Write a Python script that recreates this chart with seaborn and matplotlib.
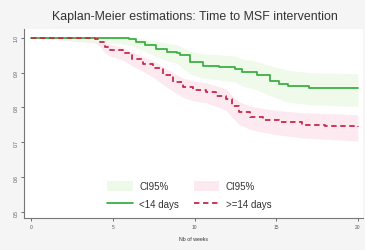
import matplotlib
matplotlib.use("Agg")
import matplotlib.pyplot as plt
import seaborn as sns
import pandas as pd
from matplotlib.patches import Patch
from matplotlib.lines import Line2D

# Kaplan-Meier estimates (weeks, survival, CI95%)
weeks_lt14 = [0, 6.0, 6.4, 7.0, 7.65, 8.3, 8.9, 9.1, 9.7, 10.5, 11.5, 12.5, 12.9, 13.8, 14.6, 15.2, 15.7, 17.0, 20]
surv_lt14 = [1.0, 0.995, 0.988, 0.979, 0.969, 0.96, 0.955, 0.949, 0.93, 0.92, 0.916, 0.911, 0.901, 0.892, 0.877, 0.868, 0.861, 0.856, 0.856]
hi_lt14 = [1.0, 1.0, 0.999, 0.995, 0.99, 0.984, 0.98, 0.976, 0.962, 0.954, 0.951, 0.947, 0.939, 0.932, 0.92, 0.913, 0.907, 0.9, 0.897]
lo_lt14 = [1.0, 0.98, 0.972, 0.96, 0.946, 0.934, 0.927, 0.92, 0.896, 0.884, 0.879, 0.873, 0.862, 0.851, 0.834, 0.824, 0.815, 0.808, 0.803]

weeks_ge14 = [0, 3.9, 4.2, 4.5, 4.8, 5.6, 6.2, 6.85, 7.45, 8.07, 8.7, 9.3, 9.9, 10.7, 11.3, 11.9, 12.3, 12.7, 13.4, 14.2, 15.2, 16.6, 18.0, 20]
surv_ge14 = [1.0, 0.995, 0.988, 0.974, 0.966, 0.955, 0.94, 0.926, 0.912, 0.893, 0.874, 0.858, 0.849, 0.844, 0.834, 0.825, 0.805, 0.786, 0.772, 0.765, 0.758, 0.751, 0.748, 0.743]
hi_ge14 = [1.0, 1.0, 0.998, 0.988, 0.982, 0.972, 0.959, 0.946, 0.934, 0.917, 0.899, 0.884, 0.876, 0.871, 0.862, 0.854, 0.835, 0.817, 0.804, 0.797, 0.791, 0.785, 0.783, 0.779]
lo_ge14 = [1.0, 0.985, 0.975, 0.958, 0.948, 0.936, 0.919, 0.903, 0.887, 0.866, 0.846, 0.829, 0.819, 0.814, 0.803, 0.793, 0.772, 0.752, 0.737, 0.729, 0.721, 0.713, 0.709, 0.704]

x_ticks = [0, 5, 10, 15, 20]
y_ticks = [0.5, 0.6, 0.7, 0.8, 0.9, 1.0]

GREEN = "#3cb043"
RED = "#c42a4a"
GREEN_CI = "#edfae8"
RED_CI = "#fdeaf0"


def main():
    sns.set_style("white")
    plt.rcParams["font.family"] = ["Liberation Sans", "DejaVu Sans"]

    fig = plt.figure(figsize=(3.65, 2.51), dpi=100, facecolor="#f5f5f5")
    ax = fig.add_axes([0.066, 0.127, 0.928, 0.755])
    ax.set_facecolor("white")

    ax.fill_between(weeks_ge14, lo_ge14, hi_ge14, color=RED_CI, lw=0)
    ax.fill_between(weeks_lt14, lo_lt14, hi_lt14, color=GREEN_CI, lw=0, alpha=0.85)

    df_lt = pd.DataFrame({"weeks": weeks_lt14, "surv": surv_lt14})
    df_ge = pd.DataFrame({"weeks": weeks_ge14, "surv": surv_ge14})
    sns.lineplot(data=df_lt, x="weeks", y="surv", ax=ax, color=GREEN, lw=1.3,
                 drawstyle="steps-post", zorder=3)
    sns.lineplot(data=df_ge, x="weeks", y="surv", ax=ax, color=RED, lw=1.3,
                 drawstyle="steps-post", dashes=(3, 2), zorder=4)

    ax.set_xlim(-0.43, 20.3)
    ax.set_ylim(0.483, 1.026)
    ax.set_xticks(x_ticks)
    ax.set_yticks(y_ticks)
    ax.set_yticklabels([f"{v:.1f}" for v in y_ticks], rotation=90, va="center")
    ax.tick_params(axis="both", labelsize=3.5, length=2.5, width=0.6,
                   colors="#555555", pad=1.5, left=True, bottom=True)
    sns.despine(ax=ax)
    for s in ("left", "bottom"):
        ax.spines[s].set_color("#777777")
        ax.spines[s].set_linewidth(0.8)

    ax.set_xlabel("Nb of weeks", fontsize=3.8, color="#333333", labelpad=5)
    ax.set_ylabel("")
    fig.suptitle("Kaplan-Meier estimations: Time to MSF intervention",
                 fontsize=8.9, color="#333333", x=0.535, y=0.955)

    handles = [
        Patch(facecolor=GREEN_CI, edgecolor="none"),
        Line2D([], [], color=GREEN, lw=1.3),
        Patch(facecolor=RED_CI, edgecolor="none"),
        Line2D([], [], color=RED, lw=1.3, dashes=(3, 2)),
    ]
    labels = ["CI95%", "<14 days", "CI95%", ">=14 days"]
    ax.legend(handles, labels, ncol=2, loc="lower center",
              bbox_to_anchor=(0.488, 0.0), frameon=False, fontsize=7,
              handlelength=2.6, handleheight=1.15, columnspacing=1.5,
              labelspacing=0.85, handletextpad=0.7, labelcolor="#333333")

    fig.savefig("out.png", dpi=100, facecolor=fig.get_facecolor())


if __name__ == "__main__":
    main()
